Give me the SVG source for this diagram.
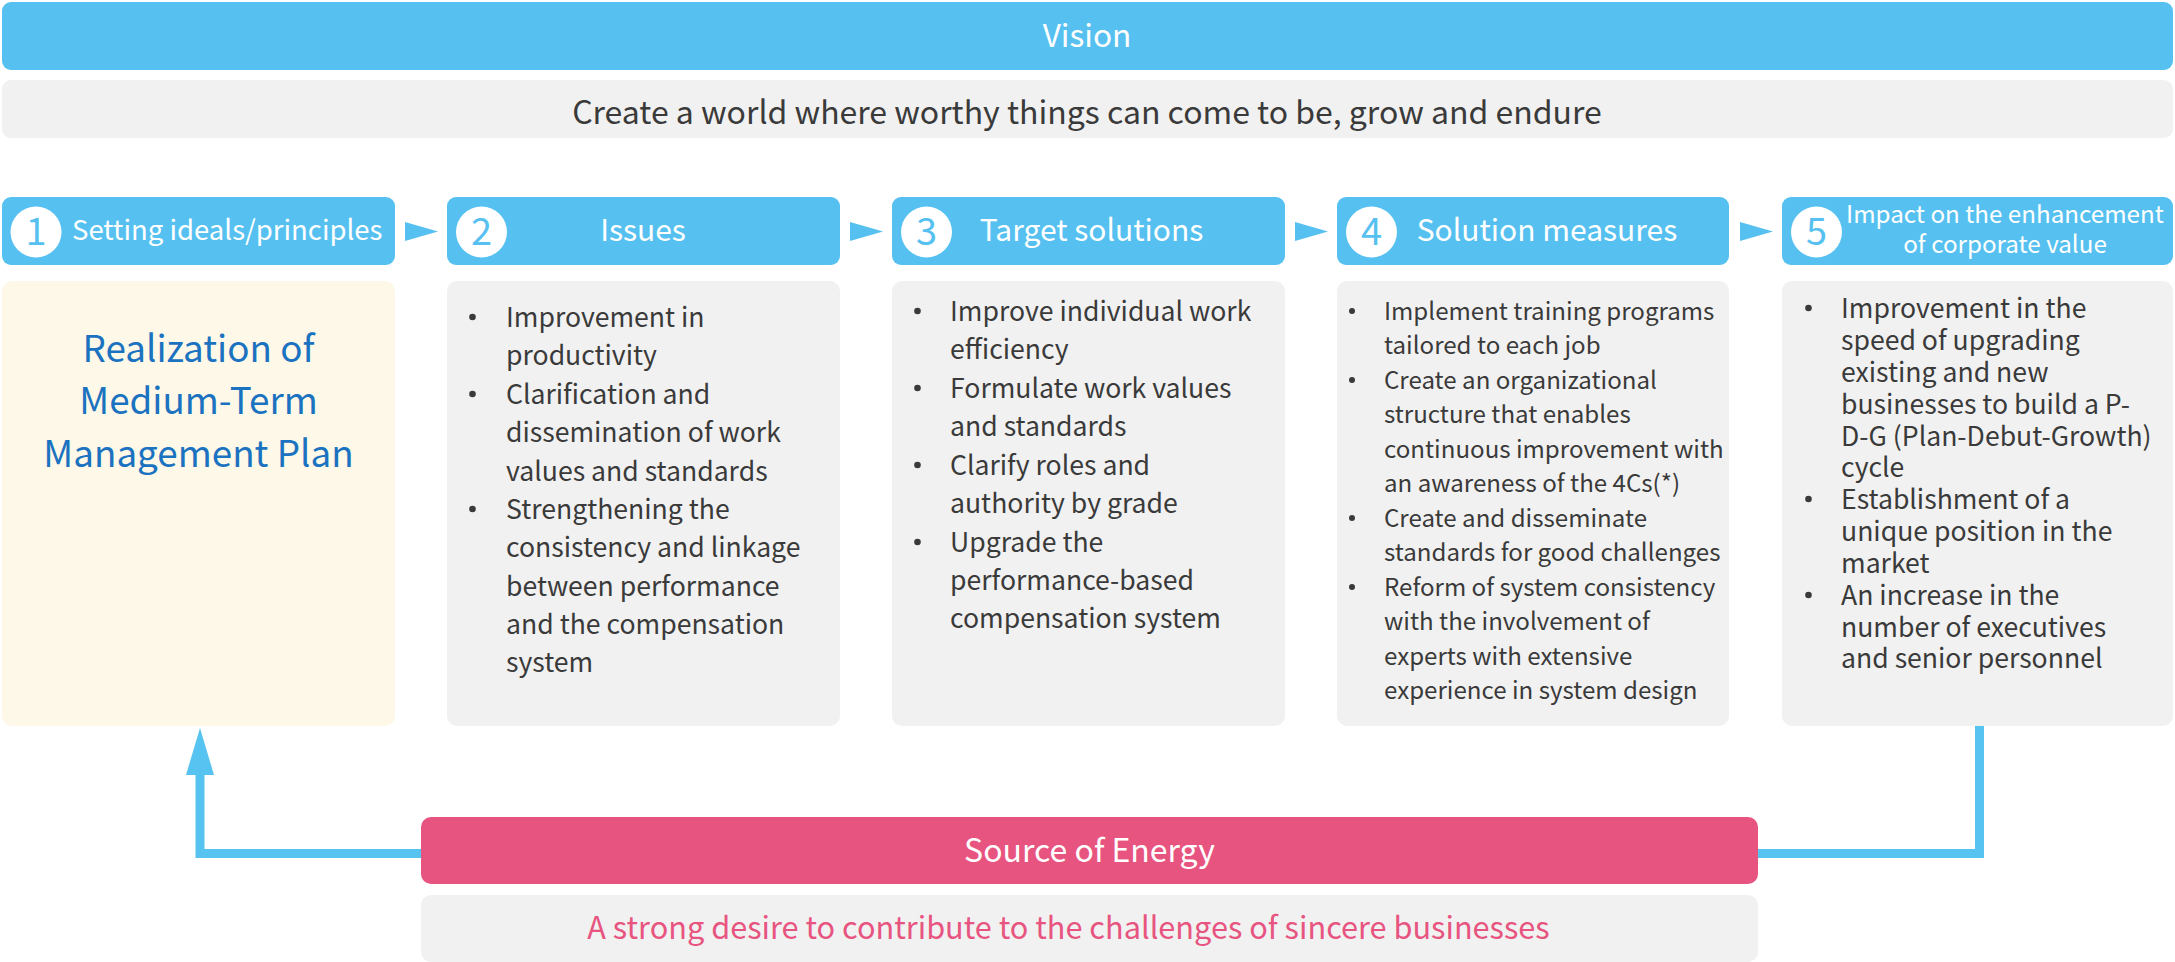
<svg xmlns="http://www.w3.org/2000/svg" width="2175" height="962" viewBox="0 0 2175 962">
<defs>
<style>
text{font-family:"Noto Sans CJK JP","Noto Sans",sans-serif;}
.hdr{fill:#56c1f0;}
.gray{fill:#f1f1f1;}
.cream{fill:#fdf8e7;}
.wt{fill:#ffffff;}
.dot{fill:#3a3a3a;}
.body{fill:#3a3a3a;font-size:26.6px;}
.b4{fill:#3a3a3a;font-size:24.1px;}
.num{fill:#56c1f0;font-size:38px;text-anchor:middle;}
.ht{fill:#ffffff;font-size:30px;}
.ht1{fill:#ffffff;font-size:27.5px;}
.ht5{fill:#ffffff;font-size:24.2px;text-anchor:middle;}
.title{fill:#1a72c0;font-size:36.8px;text-anchor:middle;}
.conn{fill:none;stroke:#56c3f0;stroke-width:9;}
.tri{fill:#56c1f0;}
</style>
</defs>
<g id="vision">
<rect x="2" y="2" width="2171" height="68" rx="9" class="hdr"/>
<text x="1087" y="47" class="wt" font-size="31.6" text-anchor="middle">Vision</text>
</g>
<g id="vision-text">
<rect x="2" y="80" width="2171" height="58" rx="9" class="gray"/>
<text x="1087" y="124" fill="#3a3a3a" font-size="32" text-anchor="middle">Create a world where worthy things can come to be, grow and endure</text>
</g>
<g id="step1">
<rect x="2" y="197" width="393" height="68" rx="9" class="hdr"/>
<circle cx="36" cy="232" r="25.5" fill="#fff"/>
<text x="36" y="245" class="num">1</text>
<text x="72" y="240" class="ht1">Setting ideals/principles</text>
<rect x="2" y="281" width="393" height="445" rx="10" class="cream"/>
<text class="title"><tspan x="198.5" y="362">Realization of</tspan><tspan x="198.5" y="414">Medium-Term</tspan><tspan x="198.5" y="467">Management Plan</tspan></text>
</g>
<g id="step2">
<rect x="447" y="197" width="393" height="68" rx="9" class="hdr"/>
<circle cx="481.5" cy="232" r="25.5" fill="#fff"/>
<text x="481.5" y="245" class="num">2</text>
<text x="643" y="241" class="ht" text-anchor="middle">Issues</text>
<rect x="447" y="281" width="393" height="445" rx="10" class="gray"/>
<circle class="dot" cx="472.5" cy="317" r="3.3"/>
<circle class="dot" cx="472.5" cy="394" r="3.3"/>
<circle class="dot" cx="472.5" cy="509" r="3.3"/>
<text class="body"><tspan x="506" y="327">Improvement in</tspan><tspan x="506" y="365">productivity</tspan></text>
<text class="body"><tspan x="506" y="404">Clarification and</tspan><tspan x="506" y="442">dissemination of work</tspan><tspan x="506" y="481">values and standards</tspan></text>
<text class="body"><tspan x="506" y="519">Strengthening the</tspan><tspan x="506" y="557">consistency and linkage</tspan><tspan x="506" y="596">between performance</tspan><tspan x="506" y="634">and the compensation</tspan><tspan x="506" y="672">system</tspan></text>
</g>
<g id="step3">
<rect x="892" y="197" width="393" height="68" rx="9" class="hdr"/>
<circle cx="926.5" cy="232" r="25.5" fill="#fff"/>
<text x="926.5" y="245" class="num">3</text>
<text x="1091.5" y="241" class="ht" text-anchor="middle">Target solutions</text>
<rect x="892" y="281" width="393" height="445" rx="10" class="gray"/>
<circle class="dot" cx="917.5" cy="311" r="3.3"/>
<circle class="dot" cx="917.5" cy="388" r="3.3"/>
<circle class="dot" cx="917.5" cy="465" r="3.3"/>
<circle class="dot" cx="917.5" cy="542" r="3.3"/>
<text class="body"><tspan x="950" y="321">Improve individual work</tspan><tspan x="950" y="359">efficiency</tspan></text>
<text class="body"><tspan x="950" y="398">Formulate work values</tspan><tspan x="950" y="436">and standards</tspan></text>
<text class="body"><tspan x="950" y="475">Clarify roles and</tspan><tspan x="950" y="513">authority by grade</tspan></text>
<text class="body"><tspan x="950" y="552">Upgrade the</tspan><tspan x="950" y="590">performance-based</tspan><tspan x="950" y="628">compensation system</tspan></text>
</g>
<g id="step4">
<rect x="1337" y="197" width="392" height="68" rx="9" class="hdr"/>
<circle cx="1371.5" cy="232" r="25.5" fill="#fff"/>
<text x="1371.5" y="245" class="num">4</text>
<text x="1547" y="241" class="ht" text-anchor="middle">Solution measures</text>
<rect x="1337" y="281" width="392" height="445" rx="10" class="gray"/>
<circle class="dot" cx="1352" cy="311" r="3"/>
<circle class="dot" cx="1352" cy="380" r="3"/>
<circle class="dot" cx="1352" cy="518" r="3"/>
<circle class="dot" cx="1352" cy="587" r="3"/>
<text class="b4"><tspan x="1384" y="320">Implement training programs</tspan><tspan x="1384" y="354">tailored to each job</tspan></text>
<text class="b4"><tspan x="1384" y="389">Create an organizational</tspan><tspan x="1384" y="423">structure that enables</tspan><tspan x="1384" y="458">continuous improvement with</tspan><tspan x="1384" y="492">an awareness of the 4Cs(*)</tspan></text>
<text class="b4"><tspan x="1384" y="527">Create and disseminate</tspan><tspan x="1384" y="561">standards for good challenges</tspan></text>
<text class="b4"><tspan x="1384" y="596">Reform of system consistency</tspan><tspan x="1384" y="630">with the involvement of</tspan><tspan x="1384" y="665">experts with extensive</tspan><tspan x="1384" y="699">experience in system design</tspan></text>
</g>
<g id="step5">
<rect x="1782" y="197" width="391" height="68" rx="9" class="hdr"/>
<circle cx="1816.5" cy="232" r="25.5" fill="#fff"/>
<text x="1816.5" y="245" class="num">5</text>
<text class="ht5"><tspan x="2005" y="223">Impact on the enhancement</tspan><tspan x="2005" y="253">of corporate value</tspan></text>
<rect x="1782" y="281" width="391" height="445" rx="10" class="gray"/>
<circle class="dot" cx="1808.5" cy="308" r="3.3"/>
<circle class="dot" cx="1808.5" cy="499" r="3.3"/>
<circle class="dot" cx="1808.5" cy="595" r="3.3"/>
<text class="body"><tspan x="1841" y="318">Improvement in the</tspan><tspan x="1841" y="350">speed of upgrading</tspan><tspan x="1841" y="382">existing and new</tspan><tspan x="1841" y="414">businesses to build a P-</tspan><tspan x="1841" y="446">D-G (Plan-Debut-Growth)</tspan><tspan x="1841" y="477">cycle</tspan></text>
<text class="body"><tspan x="1841" y="509">Establishment of a</tspan><tspan x="1841" y="541">unique position in the</tspan><tspan x="1841" y="573">market</tspan></text>
<text class="body"><tspan x="1841" y="605">An increase in the</tspan><tspan x="1841" y="637">number of executives</tspan><tspan x="1841" y="668">and senior personnel</tspan></text>
</g>
<g id="source">
<rect x="421" y="817" width="1337" height="67" rx="10" fill="#e85480"/>
<text x="1089.5" y="862" class="wt" font-size="32" text-anchor="middle">Source of Energy</text>
<rect x="421" y="895" width="1337" height="67" rx="10" class="gray"/>
<text x="1068.5" y="939" fill="#e85480" font-size="30.7" text-anchor="middle">A strong desire to contribute to the challenges of sincere businesses</text>
</g>
<g id="connectors">
<polygon class="tri" points="405,222 438,231.5 405,241"/>
<polygon class="tri" points="850,222 883,231.5 850,241"/>
<polygon class="tri" points="1295,222 1328,231.5 1295,241"/>
<polygon class="tri" points="1740,222 1773,231.5 1740,241"/>
<polyline class="conn" points="421,853.5 200,853.5 200,770"/>
<polygon fill="#56c3f0" points="200,728 214,775 186,775"/>
<polyline class="conn" points="1979.5,726 1979.5,853.5 1758,853.5"/>
</g>
</svg>
